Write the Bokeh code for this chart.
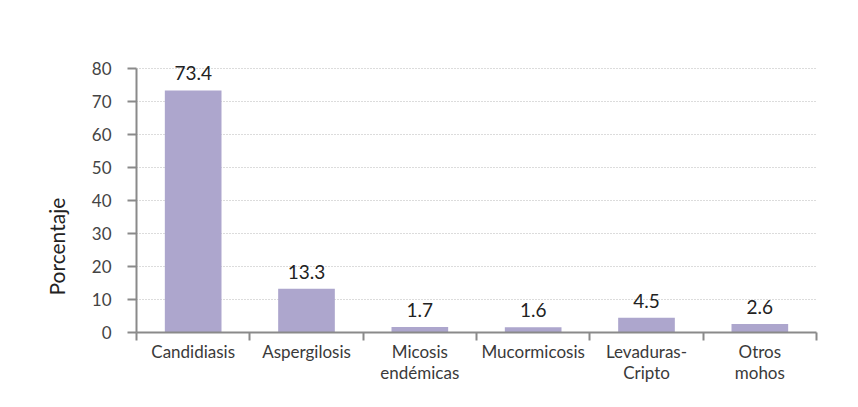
import numpy as np
from bokeh.plotting import figure
from bokeh.models import Range1d, FixedTicker, Title, ColumnDataSource
from bokeh.core.properties import value
from bokeh.embed import file_html
from bokeh.resources import INLINE

categories = ["Candidiasis", "Aspergilosis", "Micosis endémicas", "Mucormicosis", "Levaduras-Cripto", "Otros mohos"]
category_labels = ["Candidiasis", "Aspergilosis", "Micosis\nendémicas", "Mucormicosis", "Levaduras-\nCripto", "Otros\nmohos"]
percentages = [73.4, 13.3, 1.7, 1.6, 4.5, 2.6]
y_ticks = [0, 10, 20, 30, 40, 50, 60, 70, 80]
y_label = "Porcentaje"

n = len(categories)
xs = np.arange(n) + 0.5
src = ColumnDataSource(dict(x=xs, top=percentages, lbl=[f"{v:.1f}" for v in percentages]))

p = figure(width=850, height=399, output_backend="svg", toolbar_location=None,
           x_range=Range1d(0, n), y_range=Range1d(0, 84),
           min_border_left=136, min_border_right=34, min_border_top=55, min_border_bottom=67)
p.outline_line_color = None
p.background_fill_color = "white"
p.border_fill_color = "white"

p.vbar(x="x", top="top", width=0.5, bottom=0, source=src, fill_color="#ada6cd", line_color=None)
p.text(x="x", y="top", text="lbl", source=src, text_align="center", text_baseline="bottom",
       y_offset=-10, text_font=value("Lato"), text_font_size="19px", text_color="#222222")

# y axis
ya = p.yaxis[0]
ya.ticker = FixedTicker(ticks=y_ticks)
ya.bounds = (0, 80)
ya.axis_line_color = "#8a8a8a"
ya.axis_line_width = 2
ya.major_tick_line_color = "#8a8a8a"
ya.major_tick_line_width = 2
ya.major_tick_out = 9
ya.major_tick_in = 0
ya.minor_tick_line_color = None
ya.major_label_text_font = "Lato"
ya.major_label_text_font_size = "17px"
ya.major_label_text_color = "#444444"
ya.major_label_standoff = 16

# x axis
xa = p.xaxis[0]
xa.ticker = FixedTicker(ticks=list(xs), minor_ticks=list(range(n + 1)))
xa.major_label_overrides = {float(x): l for x, l in zip(xs, category_labels)}
xa.axis_line_color = "#8a8a8a"
xa.axis_line_width = 2
xa.major_tick_line_color = None
xa.major_tick_out = 0
xa.major_tick_in = 0
xa.minor_tick_line_color = "#8a8a8a"
xa.minor_tick_line_width = 2
xa.minor_tick_out = 8
xa.minor_tick_in = 0
xa.major_label_text_font = "Lato"
xa.major_label_text_font_size = "17px"
xa.major_label_text_color = "#3a3a3a"
xa.major_label_text_line_height = 1.0
xa.major_label_standoff = 0

p.xgrid.grid_line_color = None
p.ygrid.grid_line_color = "#b8b8b8"
p.ygrid.grid_line_dash = "1 2"
p.ygrid.grid_line_width = 1

p.add_layout(Title(text=y_label, align="left", offset=37, standoff=40,
                   text_font="Lato", text_font_size="21px", text_font_style="normal",
                   text_color="#222222"), "left")

open("out.html", "w").write(file_html(p, INLINE))
